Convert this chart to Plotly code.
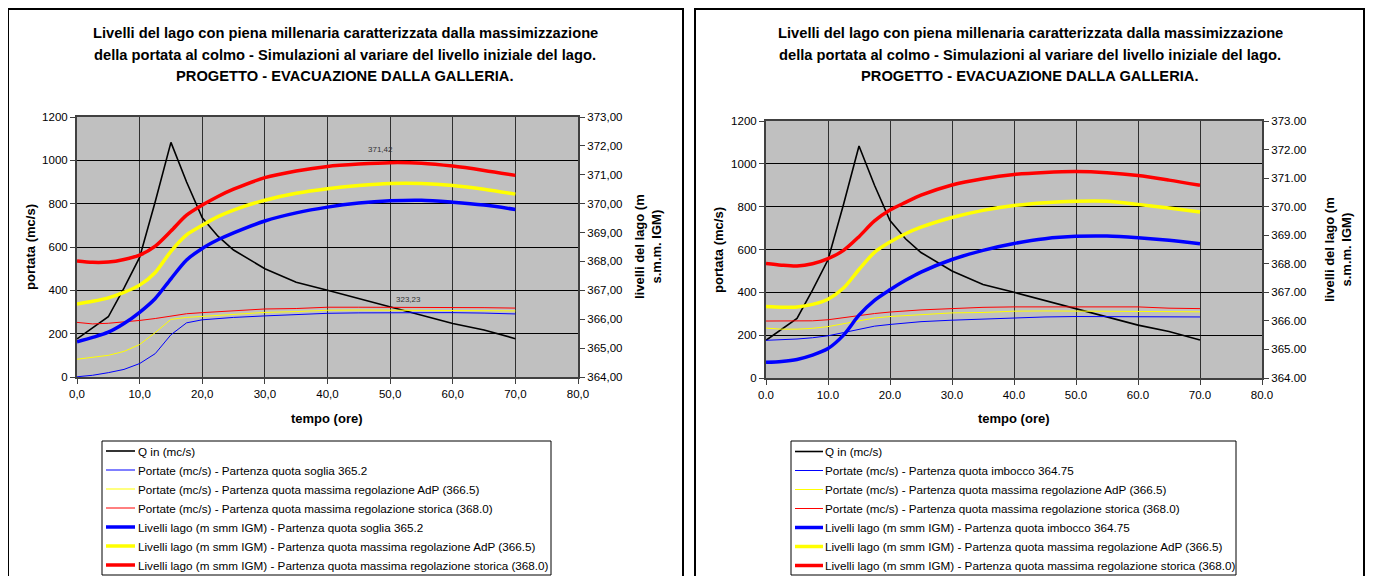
import plotly.graph_objects as go

# ---------------- data ----------------
t = [0, 2.5, 5, 7.5, 10, 12.5, 15, 17.5, 20, 22.5, 25, 30, 35, 40, 45, 50, 55, 60, 65, 70]
q_in = [176, 227, 278, 410, 552, 810, 1083, 900, 735, 650, 586, 500, 437, 400, 362, 324, 285, 247, 217, 177]

# left chart (soglia 365.2)
L_port_blue = [1, 8, 20, 35, 62, 108, 195, 250, 264, 270, 275, 282, 288, 294, 296, 297, 297, 297, 295, 291]
L_port_yellow = [82, 90, 100, 118, 150, 205, 266, 275, 280, 285, 290, 298, 302, 308, 309, 309, 309, 308, 306, 305]
L_port_red = [252, 245, 248, 253, 261, 270, 282, 292, 297, 302, 307, 314, 316, 322, 322, 322, 322, 322, 320, 318]
L_liv_blue = [365.22, 365.37, 365.55, 365.85, 366.24, 366.72, 367.40, 368.05, 368.45, 368.75, 368.99, 369.40, 369.68, 369.88, 370.02, 370.10, 370.12, 370.05, 369.95, 369.80]
L_liv_yellow = [366.53, 366.62, 366.74, 366.93, 367.18, 367.62, 368.35, 368.92, 369.25, 369.55, 369.78, 370.12, 370.36, 370.52, 370.63, 370.70, 370.70, 370.63, 370.50, 370.33]
L_liv_red = [368.02, 367.97, 367.98, 368.07, 368.22, 368.53, 369.05, 369.60, 369.95, 370.25, 370.50, 370.90, 371.13, 371.29, 371.37, 371.42, 371.40, 371.30, 371.15, 370.98]

# right chart (imbocco 364.75)
R_port_blue = [176, 178, 182, 188, 197, 212, 228, 242, 250, 257, 263, 270, 275, 282, 285, 287, 287, 287, 285, 285]
R_port_yellow = [233, 228, 228, 232, 240, 254, 268, 280, 287, 292, 296, 304, 306, 312, 313, 313, 313, 313, 310, 309]
R_port_red = [266, 266, 266, 267, 272, 282, 292, 301, 308, 313, 318, 324, 330, 332, 332, 332, 332, 332, 326, 324]
R_liv_blue = [364.55, 364.58, 364.65, 364.80, 365.03, 365.50, 366.20, 366.72, 367.09, 367.42, 367.71, 368.15, 368.47, 368.71, 368.88, 368.96, 368.97, 368.91, 368.82, 368.70]
R_liv_yellow = [366.50, 366.48, 366.49, 366.58, 366.76, 367.15, 367.80, 368.40, 368.76, 369.05, 369.28, 369.62, 369.87, 370.04, 370.14, 370.19, 370.19, 370.08, 369.95, 369.81]
R_liv_red = [368.01, 367.95, 367.92, 368.00, 368.18, 368.47, 368.95, 369.50, 369.88, 370.15, 370.40, 370.76, 370.98, 371.13, 371.20, 371.23, 371.19, 371.09, 370.93, 370.75]

x_ticks = [0, 10, 20, 30, 40, 50, 60, 70, 80]
x_ticktext_L = ["0,0", "10,0", "20,0", "30,0", "40,0", "50,0", "60,0", "70,0", "80,0"]
x_ticktext_R = ["0.0", "10.0", "20.0", "30.0", "40.0", "50.0", "60.0", "70.0", "80.0"]
q_ticks = [0, 200, 400, 600, 800, 1000, 1200]
lev_ticks = [364, 365, 366, 367, 368, 369, 370, 371, 372, 373]
lev_ticktext_L = ["364,00", "365,00", "366,00", "367,00", "368,00", "369,00", "370,00", "371,00", "372,00", "373,00"]
lev_ticktext_R = ["364.00", "365.00", "366.00", "367.00", "368.00", "369.00", "370.00", "371.00", "372.00", "373.00"]

title_lines = ["Livelli del lago con piena millenaria caratterizzata dalla massimizzazione",
               "della portata al colmo - Simulazioni al variare del livello iniziale del lago.",
               "PROGETTO - EVACUAZIONE DALLA GALLERIA."]

names_L = ["Q in (mc/s)",
           "Portate (mc/s) - Partenza quota soglia 365.2",
           "Portate (mc/s) - Partenza quota massima regolazione AdP (366.5)",
           "Portate (mc/s) - Partenza quota massima regolazione storica (368.0)",
           "Livelli lago (m smm IGM) - Partenza quota soglia 365.2",
           "Livelli lago (m smm IGM) - Partenza quota massima regolazione AdP (366.5)",
           "Livelli lago (m smm IGM) - Partenza quota massima regolazione storica (368.0)"]
names_R = ["Q in (mc/s)",
           "Portate (mc/s) - Partenza quota imbocco 364.75",
           "Portate (mc/s) - Partenza quota massima regolazione AdP (366.5)",
           "Portate (mc/s) - Partenza quota massima regolazione storica (368.0)",
           "Livelli lago (m smm IGM) - Partenza quota imbocco 364.75",
           "Livelli lago (m smm IGM) - Partenza quota massima regolazione AdP (366.5)",
           "Livelli lago (m smm IGM) - Partenza quota massima regolazione storica (368.0)"]

ann_peak_L = "371,42"
ann_cross_L = "323,23"

# ---------------- layout helpers ----------------
# the page body keeps its default 8px margin, so the figure is placed at (8, 8)
OFF = 8
W, H = 1373 - 2 * OFF, 576 - OFF
def px(x):
    return (x - OFF) / W
def py(y):
    return 1 - (y - OFF) / H

FONT = "Arial, 'Liberation Sans', sans-serif"
BLUE, YELLOW, RED = "#0000FF", "#FFFF00", "#FF0000"
styles = [("#000000", 1.6, "linear"), (BLUE, 1, "linear"), (YELLOW, 1, "linear"), (RED, 1, "linear"),
          (BLUE, 3.5, "spline"), (YELLOW, 3.5, "spline"), (RED, 3.5, "spline")]

fig = go.Figure()

def add_chart(xa, ya, ya2, names, series):
    for i, vals in enumerate(series):
        col, w, shape = styles[i]
        line = dict(color=col, width=w, shape=shape)
        if shape == "spline":
            line["smoothing"] = 0.8
        fig.add_trace(go.Scatter(x=t, y=vals, mode="lines", name=names[i], line=line,
                                 xaxis=xa, yaxis=(ya if i < 4 else ya2),
                                 showlegend=False, hoverinfo="skip"))

add_chart("x", "y", "y2", names_L,
          [q_in, L_port_blue, L_port_yellow, L_port_red, L_liv_blue, L_liv_yellow, L_liv_red])
add_chart("x2", "y3", "y4", names_R,
          [q_in, R_port_blue, R_port_yellow, R_port_red, R_liv_blue, R_liv_yellow, R_liv_red])

axis_common = dict(showline=True, linecolor="#404040", linewidth=2, ticks="outside",
                   ticklen=5, tickcolor="#404040", tickfont=dict(family=FONT, size=11.5, color="#000"),
                   zeroline=False, fixedrange=True, automargin=False)

def xaxis(domain, ticktext, anchor):
    return dict(domain=domain, range=[0, 80], tickvals=x_ticks, ticktext=ticktext,
                showgrid=True, gridcolor="#303030", gridwidth=1, mirror=True, anchor=anchor,
                **axis_common)

def yaxis_left(domain, anchor):
    return dict(domain=domain, range=[0, 1200], tickvals=q_ticks,
                showgrid=True, gridcolor="#000000", gridwidth=1, anchor=anchor, **axis_common)

def yaxis_right(ov, ticktext, anchor):
    return dict(overlaying=ov, side="right", range=[364, 373], tickvals=lev_ticks,
                ticktext=ticktext, showgrid=False, anchor=anchor, **axis_common)

fig.update_layout(
    width=W, height=H, autosize=False,
    margin=dict(l=0, r=0, t=0, b=0, autoexpand=False),
    paper_bgcolor="white", plot_bgcolor="#C0C0C0",
    font=dict(family=FONT, size=11, color="#000"),
    xaxis=xaxis([px(77), px(578)], x_ticktext_L, "y"),
    yaxis=yaxis_left([py(377), py(117)], "x"),
    yaxis2=yaxis_right("y", lev_ticktext_L, "x"),
    xaxis2=xaxis([px(766), px(1262)], x_ticktext_R, "y3"),
    yaxis3=yaxis_left([py(378), py(121)], "x2"),
    yaxis4=yaxis_right("y3", lev_ticktext_R, "x2"),
    showlegend=False,
)

annotations = []
shapes = []

def ptext(text, x, y, size, bold=False, angle=0, xanchor="center"):
    annotations.append(dict(text=("<b>%s</b>" % text) if bold else text, x=px(x), y=py(y),
                            xref="paper", yref="paper", showarrow=False, textangle=angle,
                            xanchor=xanchor, yanchor="middle",
                            font=dict(family=FONT, size=size, color="#000")))

for cx in [345, 1030]:
    for line, yy in zip(title_lines, [33, 55, 76]):
        ptext(line, cx, yy, 14.7, bold=True)

# axis titles
for cx, cy in [(30, 247), (718, 250)]:
    ptext("portata (mc/s)", cx, cy, 13, bold=True, angle=-90)
for cx, cy in [(648, 247), (1338, 250)]:
    ptext("livelli del lago (m<br>s.m.m. IGM)", cx, cy, 13, bold=True, angle=-90)
for cx, cy in [(327, 418), (1014, 418)]:
    ptext("tempo (ore)", cx, cy, 13, bold=True)

# data labels on the left chart
annotations.append(dict(text=ann_peak_L, x=48.5, y=371.86, xref="x", yref="y2", showarrow=False,
                        font=dict(family=FONT, size=8, color="#333")))
annotations.append(dict(text=ann_cross_L, x=53, y=360, xref="x", yref="y", showarrow=False,
                        font=dict(family=FONT, size=8, color="#333")))

# chart frames
for x0, x1 in [(8, 683), (695, 1364)]:
    shapes.append(dict(type="rect", xref="paper", yref="paper", x0=px(x0), x1=px(x1), y0=-0.1, y1=py(9),
                       line=dict(color="#000", width=2), fillcolor="rgba(0,0,0,0)", layer="below"))

# legend boxes (one per chart)
def legend_box(names, bx0, bx1, by0, by1, lx0, lx1, tx, row0, step):
    shapes.append(dict(type="rect", xref="paper", yref="paper", x0=px(bx0), x1=px(bx1),
                       y0=py(by1), y1=py(by0), line=dict(color="#000", width=1),
                       fillcolor="white", layer="above"))
    for i, nm in enumerate(names):
        col, w, _ = styles[i]
        yy = row0 + i * step
        shapes.append(dict(type="line", xref="paper", yref="paper", x0=px(lx0), x1=px(lx1),
                           y0=py(yy), y1=py(yy), line=dict(color=col, width=w), layer="above"))
        ptext(nm, tx, yy, 11.7, xanchor="left")

legend_box(names_L, 102, 551, 441, 575, 106, 135, 136, 451, 19)
legend_box(names_R, 791, 1236, 441, 575, 795, 823, 823, 451.5, 19)

fig.update_layout(annotations=annotations, shapes=shapes)

fig.write_html("out.html", config={"displayModeBar": False})
